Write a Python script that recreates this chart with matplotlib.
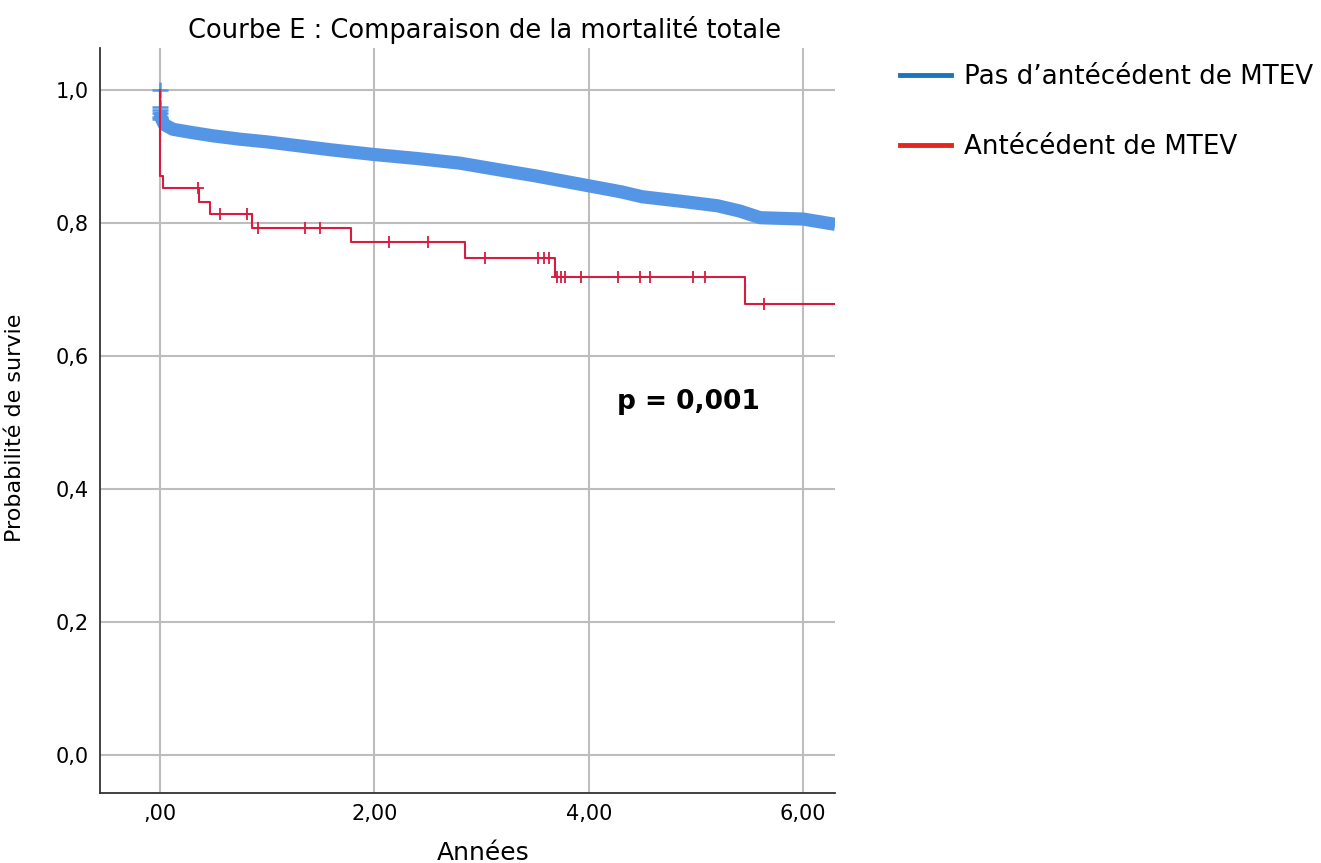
import numpy as np
import matplotlib.pyplot as plt
from matplotlib.lines import Line2D

plt.rcParams["font.family"] = ["DejaVu Sans"]

# Pas d'antécédent de MTEV : courbe de survie (temps en années, probabilité)
blue_t = [0.0, 0.01, 0.04, 0.12, 0.3, 0.5, 0.75, 1.0, 1.3, 1.6, 2.0, 2.4,
          2.8, 3.2, 3.5, 3.8, 4.0, 4.3, 4.5, 4.9, 5.2, 5.41, 5.6, 6.0, 6.3]
blue_s = [0.968, 0.958, 0.948, 0.941, 0.936, 0.931, 0.926, 0.922, 0.916,
          0.910, 0.903, 0.897, 0.890, 0.879, 0.871, 0.862, 0.856, 0.847,
          0.8395, 0.832, 0.826, 0.818, 0.808, 0.806, 0.798]
# censures visibles au début du suivi
blue_cens_t = [0.0, 0.0, 0.0, 0.0, 0.0, 0.0]
blue_cens_s = [1.0, 0.975, 0.970, 0.965, 0.960, 0.956]

# Antécédent de MTEV : temps des décès et survie après chaque décès
red_t = [0.0, 0.03, 0.36, 0.47, 0.86, 1.785, 2.85, 3.685, 5.458]
red_s = [0.871, 0.852, 0.832, 0.8135, 0.793, 0.771, 0.747, 0.719, 0.678]
red_cens_t = [0.35, 0.56, 0.81, 0.91, 1.355, 1.495, 2.14, 2.505, 3.03, 3.526,
              3.58, 3.63, 3.70, 3.74, 3.78, 3.925, 4.27, 4.477, 4.573, 4.975,
              5.087, 5.638]
x_end = 6.3

x_ticks = [0, 2, 4, 6]
x_labels = [",00", "2,00", "4,00", "6,00"]
y_ticks = [0.0, 0.2, 0.4, 0.6, 0.8, 1.0]
y_labels = ["0,0", "0,2", "0,4", "0,6", "0,8", "1,0"]

blue_band = "#5496e5"
red_curve = "#d81b3f"


def km_value(times, surv, t):
    # survival level of the step function at time t
    level = 1.0
    for ti, si in zip(times, surv):
        if ti <= t:
            level = si
    return level


fig = plt.figure(figsize=(13.21, 8.63), dpi=100)
ax = fig.add_axes([100 / 1321, 70 / 863, 735 / 1321, 745 / 863])

# Blue curve: dense censoring makes a thick band
ax.plot([0, 0], [1.0, blue_s[0]], color=blue_band, lw=1.5, zorder=3)
ax.plot(blue_t, blue_s, color=blue_band, lw=9.5, solid_capstyle="butt",
        solid_joinstyle="round", zorder=3)
ax.plot(blue_cens_t, blue_cens_s, "+", color=blue_band, ms=11, mew=1.8,
        zorder=3)

# Red step curve with censor marks
rt = [0.0] + red_t + [x_end]
rs = [1.0] + red_s + [red_s[-1]]
ax.step(rt, rs, where="post", color=red_curve, lw=1.5, zorder=4)
red_cens_s = [km_value(red_t, red_s, t) for t in red_cens_t]
ax.plot(red_cens_t, red_cens_s, "+", color=red_curve, ms=9, mew=1.3, zorder=4)

ax.set_xlim(-0.56, 6.298)
ax.set_ylim(-0.0571, 1.0632)
ax.set_xticks(x_ticks)
ax.set_xticklabels(x_labels)
ax.set_yticks(y_ticks)
ax.set_yticklabels(y_labels)
ax.tick_params(length=0, labelsize=15, pad=8)
ax.grid(True, color="#bdbdbd", lw=1.5)
ax.set_axisbelow(True)
for side in ["top", "right"]:
    ax.spines[side].set_visible(False)
for side in ["left", "bottom"]:
    ax.spines[side].set_color("#333333")
    ax.spines[side].set_linewidth(1.3)

ax.set_xlabel("Années", fontsize=18)
ax.xaxis.set_label_coords(0.522, -0.065)
ax.set_ylabel("Probabilité de survie", fontsize=16)
ax.yaxis.set_label_coords(-0.102, 0.49)
fig.text(485 / 1321, 1 - 30 / 863, "Courbe E : Comparaison de la mortalité totale",
         ha="center", va="center", fontsize=18.5)

ax.text(4.264, 0.531, "p = 0,001", fontsize=19, fontweight="bold",
        ha="left", va="center")

handles = [Line2D([], [], color="#1a75bc", lw=3.5),
           Line2D([], [], color="#e3261e", lw=3.5)]
fig.legend(handles, ["Pas d’antécédent de MTEV", "Antécédent de MTEV"],
           loc="upper left", bbox_to_anchor=(900 / 1321, 1 - 64 / 863),
           frameon=False, fontsize=18.8, handlelength=1.95, handletextpad=0.5,
           labelspacing=1.7, borderpad=0, borderaxespad=0)

fig.savefig("out.png", dpi=100)
